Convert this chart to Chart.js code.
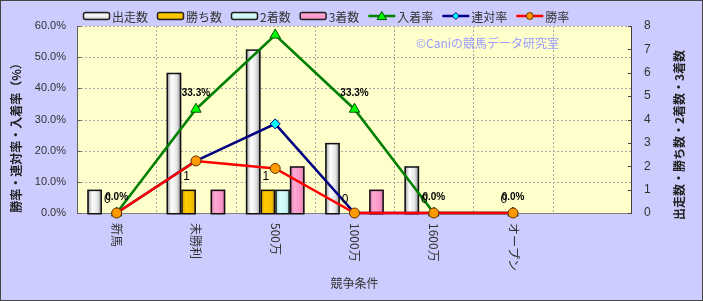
<!DOCTYPE html>
<html><head><meta charset="utf-8">
<script src="https://cdn.jsdelivr.net/npm/chart.js@4.4.1/dist/chart.umd.min.js"></script>
<style>html,body{margin:0;padding:0;background:#CCCCFF;overflow:hidden}#wrap{width:703px;height:301px;position:relative}</style>
</head><body><div id="wrap"><canvas id="c" width="703" height="301"></canvas></div>
<script>
// ---- data ----
const categories = ['新馬','未勝利','500万','1000万','1600万','オープン',''];
const runs = [1,6,7,3,2,0];          // 出走数
const wins = [0,1,1,0,0,0];          // 勝ち数
const seconds = [0,0,1,0,0,0];       // 2着数
const thirds = [0,1,2,1,0,0];        // 3着数
const placeRate = [0,33.3,57.1,33.3,0,0];    // 入着率 (%)
const quinellaRate = [0,16.7,28.6,0,0,0];    // 連対率 (%)
const winRate = [0,16.7,14.3,0,0,0];         // 勝率 (%)
const leftTickValues = [0,10,20,30,40,50,60];
const rightTickValues = [0,1,2,3,4,5,6,7,8];
const xTitle = '競争条件';
const leftTitle = '勝率・連対率・入着率（%）';
const rightTitle = '出走数・勝ち数・2着数・3着数';
const watermark = '©Caniの競馬データ研究室';

const JP = '"Noto Sans CJK JP", "Noto Sans", sans-serif';
const NUM = '"Liberation Sans", Arial, sans-serif';

const barStyles = [
  {stops:[[0,'#9a9a9a'],[0.35,'#ffffff'],[0.7,'#e4e4e4'],[1,'#8a8a8a']]},
  {stops:[[0,'#c89a00'],[0.3,'#ffcc00'],[0.75,'#f2c000'],[1,'#c08f00']]},
  {stops:[[0,'#9fd0d0'],[0.3,'#d8ffff'],[0.75,'#c8f4f4'],[1,'#98c8c8']]},
  {stops:[[0,'#d47aa8'],[0.3,'#ffa8d4'],[0.75,'#f894c6'],[1,'#c870a0']]}
];

function grad(ctx, x0, x1, stops){
  const g = ctx.createLinearGradient(x0,0,x1,0);
  stops.forEach(s=>g.addColorStop(s[0], s[1]));
  return g;
}

const customPlugin = {
  id: 'custom',
  beforeDraw(chart){
    const {ctx, chartArea:a} = chart;
    ctx.save();
    ctx.fillStyle = '#CCCCFF';
    ctx.fillRect(0,0,chart.width,chart.height);
    ctx.fillStyle = '#FFFFCC';
    ctx.fillRect(a.left,a.top,a.right-a.left,a.bottom-a.top);
    ctx.restore();
  },
  beforeDatasetsDraw(chart){
    const {ctx, chartArea:a, scales} = chart;
    const y = scales.y, y1 = scales.y1, x = scales.x;
    ctx.save();
    ctx.strokeStyle = '#a8a8a8';
    ctx.lineWidth = 1;
    ctx.setLineDash([2,2]);
    leftTickValues.forEach(v=>{
      if (v===0) return;
      const py = Math.round(y.getPixelForValue(v))+0.5;
      ctx.beginPath(); ctx.moveTo(a.left,py); ctx.lineTo(a.right,py); ctx.stroke();
    });
    for (let i=1;i<categories.length;i++){
      const px = Math.round((x.getPixelForValue(i-1)+x.getPixelForValue(i))/2)+0.5;
      ctx.beginPath(); ctx.moveTo(px,a.top); ctx.lineTo(px,a.bottom); ctx.stroke();
    }
    ctx.setLineDash([]);
    // watermark
    ctx.fillStyle = '#9a9aff';
    ctx.font = '12px ' + JP;
    ctx.textBaseline = 'middle';
    ctx.textAlign = 'left';
    ctx.fillText(watermark, a.left+339, a.top+17);
    // axes
    ctx.strokeStyle = '#606060';
    ctx.beginPath(); ctx.moveTo(a.left+0.5,a.top); ctx.lineTo(a.left+0.5,a.bottom); ctx.stroke();
    ctx.strokeStyle = '#808080';
    ctx.beginPath(); ctx.moveTo(a.left,a.bottom+0.5); ctx.lineTo(a.right,a.bottom+0.5); ctx.stroke();
    ctx.strokeStyle = '#404040';
    ctx.beginPath(); ctx.moveTo(a.right-0.5,a.top); ctx.lineTo(a.right-0.5,a.bottom+1); ctx.stroke();
    // tick marks (inside)
    leftTickValues.forEach(v=>{
      const py = Math.round(y.getPixelForValue(v))+0.5;
      ctx.strokeStyle='#606060';
      ctx.beginPath(); ctx.moveTo(a.left,py); ctx.lineTo(a.left+4,py); ctx.stroke();
    });
    rightTickValues.forEach(v=>{
      const py = Math.round(y1.getPixelForValue(v))+0.5;
      ctx.strokeStyle='#404040';
      ctx.beginPath(); ctx.moveTo(a.right-4,py); ctx.lineTo(a.right,py); ctx.stroke();
    });
    ctx.restore();
  },
  afterDatasetDraw(chart, args){
    const meta = args.meta;
    if (meta.type !== 'bar') return;
    const st = barStyles[args.index];
    const ctx = chart.ctx;
    ctx.save();
    meta.data.forEach(el=>{
      const p = el.getProps(['x','y','base','width'], true);
      const h = p.base - p.y;
      if (h < 0.5) return;
      const l = p.x - p.width/2, r = p.x + p.width/2;
      ctx.fillStyle = grad(ctx, l, r, st.stops);
      ctx.fillRect(l, p.y, r-l, h);
      ctx.strokeStyle = '#111';
      ctx.lineWidth = 1.5;
      ctx.strokeRect(l+0.75, p.y+0.75, r-l-1.5, h);
    });
    ctx.restore();
  },
  afterDatasetsDraw(chart){
    const {ctx, chartArea:a} = chart;
    ctx.save();
    ctx.fillStyle = '#000';
    ctx.textAlign = 'center';
    ctx.textBaseline = 'middle';
    // 入着率 labels
    const pm = chart.getDatasetMeta(4);
    ctx.font = 'bold 10px ' + NUM;
    pm.data.forEach((el,i)=>{
      const ly = el.y - 16;
      if (ly < a.top) return;
      ctx.fillText(placeRate[i].toFixed(1)+'%', el.x, ly);
    });
    // 勝ち数 labels
    const wm = chart.getDatasetMeta(1);
    ctx.font = '12px ' + NUM;
    wm.data.forEach((el,i)=>{
      ctx.fillText(String(wins[i]), el.x-2, el.y-13);
    });
    ctx.restore();
  },
  afterDraw(chart){
    const {ctx, chartArea:a, scales} = chart;
    ctx.save();
    ctx.fillStyle = '#333';
    // x labels rotated clockwise
    ctx.font = '12px ' + JP;
    ctx.textAlign = 'left';
    ctx.textBaseline = 'middle';
    categories.forEach((c,i)=>{
      if (!c) return;
      const px = scales.x.getPixelForValue(i);
      ctx.save();
      ctx.translate(px, a.bottom+10);
      ctx.rotate(Math.PI/2);
      ctx.fillText(c, 0, 0);
      ctx.restore();
    });
    // x title
    ctx.textAlign = 'center';
    ctx.fillText(xTitle, (a.left+a.right)/2, 283);
    // y titles
    ctx.fillStyle = '#222';
    ctx.font = 'bold 12px ' + JP;
    ctx.save(); ctx.translate(16, 135); ctx.rotate(-Math.PI/2); ctx.fillText(leftTitle,0,0); ctx.restore();
    ctx.save(); ctx.translate(679, 135); ctx.rotate(-Math.PI/2); ctx.fillText(rightTitle,0,0); ctx.restore();
    // legend
    ctx.font = '12px ' + JP;
    ctx.textAlign = 'left';
    let lx = 83; const ly = 16;
    chart.data.datasets.forEach((ds, i)=>{
      if (ds.type === 'line'){
        ctx.strokeStyle = ds.borderColor; ctx.lineWidth = 2.5;
        ctx.beginPath(); ctx.moveTo(lx, ly); ctx.lineTo(lx+27, ly); ctx.stroke();
        ctx.fillStyle = ds.pointBackgroundColor; ctx.strokeStyle = ds.pointBorderColor;
        ctx.lineWidth = 1;
        drawMarker(ctx, ds.pointStyle, lx+13.5, ly, ds.pointRadius-1.5);
      } else {
        const st = barStyles[i];
        const g = ctx.createLinearGradient(0, ly-4, 0, ly+4);
        st.stops.forEach(s=>g.addColorStop(s[0], s[1]));
        ctx.fillStyle = g;
        ctx.beginPath();
        roundRect(ctx, lx+0.5, ly-3.5, 26, 7, 2);
        ctx.fill();
        ctx.strokeStyle = '#222'; ctx.lineWidth = 1.5; ctx.stroke();
      }
      ctx.fillStyle = '#333';
      ctx.fillText(ds.label, lx+29, ly+1);
      lx += 29 + ctx.measureText(ds.label).width + 9;
    });
    // outer border
    ctx.strokeStyle = '#444'; ctx.lineWidth = 1;
    ctx.strokeRect(0.5,0.5,chart.width-1,chart.height-1);
    ctx.restore();
  }
};

function roundRect(ctx,x,y,w,h,r){
  ctx.moveTo(x+r,y); ctx.lineTo(x+w-r,y); ctx.quadraticCurveTo(x+w,y,x+w,y+r);
  ctx.lineTo(x+w,y+h-r); ctx.quadraticCurveTo(x+w,y+h,x+w-r,y+h);
  ctx.lineTo(x+r,y+h); ctx.quadraticCurveTo(x,y+h,x,y+h-r);
  ctx.lineTo(x,y+r); ctx.quadraticCurveTo(x,y,x+r,y); ctx.closePath();
}
function drawMarker(ctx, style, x, y, r){
  ctx.beginPath();
  if (style==='triangle'){
    ctx.moveTo(x, y-r); ctx.lineTo(x+r*1.05, y+r*0.8); ctx.lineTo(x-r*1.05, y+r*0.8); ctx.closePath();
  } else if (style==='rectRot'){
    ctx.moveTo(x, y-r); ctx.lineTo(x+r, y); ctx.lineTo(x, y+r); ctx.lineTo(x-r, y); ctx.closePath();
  } else {
    ctx.arc(x, y, r, 0, Math.PI*2);
  }
  ctx.fill(); ctx.stroke();
}

const barCommon = {type:'bar', yAxisID:'y1', backgroundColor:'rgba(0,0,0,0)', borderWidth:0, categoryPercentage:0.74, barPercentage:1.0, order:10};
const lineCommon = {type:'line', yAxisID:'y', borderWidth:2.5, pointBorderWidth:1, clip:false, fill:false, tension:0, pointHoverRadius:5};

new Chart(document.getElementById('c'), {
  data: {
    labels: categories,
    datasets: [
      Object.assign({label:'出走数', data:runs}, barCommon),
      Object.assign({label:'勝ち数', data:wins}, barCommon),
      Object.assign({label:'2着数', data:seconds}, barCommon),
      Object.assign({label:'3着数', data:thirds}, barCommon),
      Object.assign({label:'入着率', data:placeRate, borderColor:'#008000', pointStyle:'triangle', pointRadius:6, pointBackgroundColor:'#00ff00', pointBorderColor:'#005000', order:3}, lineCommon),
      Object.assign({label:'連対率', data:quinellaRate, borderColor:'#000080', pointStyle:'rectRot', pointRadius:5, pointBackgroundColor:'#00ffff', pointBorderColor:'#000080', order:2}, lineCommon),
      Object.assign({label:'勝率', data:winRate, borderColor:'#ff0000', pointStyle:'circle', pointRadius:5, pointBackgroundColor:'#ff9900', pointBorderColor:'#663300', order:1}, lineCommon)
    ]
  },
  options: {
    responsive:false, animation:false, devicePixelRatio:1,
    layout:{padding:{top:26,left:0,right:0,bottom:0}},
    plugins:{legend:{display:false}, tooltip:{enabled:false}},
    scales:{
      x:{type:'category', offset:true, grid:{display:false, drawTicks:false, offset:true}, border:{display:false},
         ticks:{display:false}, afterFit(s){ s.height = 88; }},
      y:{position:'left', min:0, max:60, grid:{display:false, drawTicks:false}, border:{display:false},
         afterBuildTicks(s){ s.ticks = leftTickValues.map(v=>({value:v})); },
         ticks:{padding:11, color:'#333', font:{family:NUM, size:11}, callback:v=>Number(v).toFixed(1)+'%'},
         afterFit(s){ s.width = 77; }},
      y1:{position:'right', min:0, max:8, grid:{display:false, drawTicks:false}, border:{display:false},
         afterBuildTicks(s){ s.ticks = rightTickValues.map(v=>({value:v})); },
         ticks:{padding:12, color:'#333', font:{family:NUM, size:12}},
         afterFit(s){ s.width = 71; }}
    }
  },
  plugins:[customPlugin]
});
</script></body></html>
